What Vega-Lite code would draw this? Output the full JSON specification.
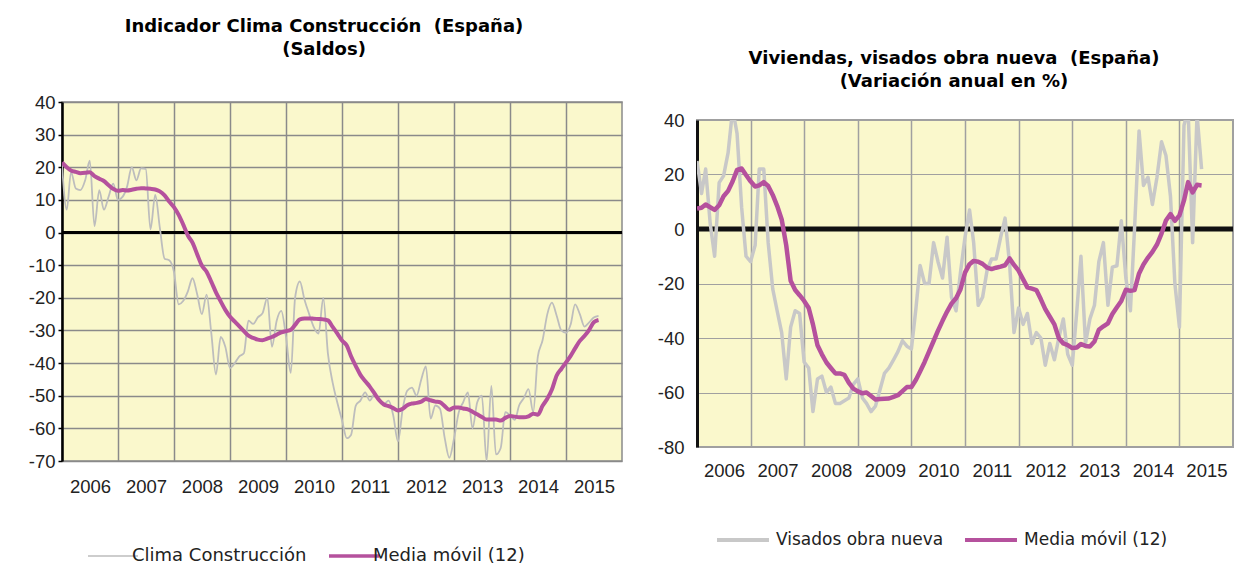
{
  "$schema": "https://vega.github.io/schema/vega-lite/v6.json",
  "padding": {"left": 5, "top": 10, "right": 0, "bottom": 0},
  "config": {
    "font": "Liberation Sans",
    "view": {"stroke": null},
    "axis": {"labelFont": "Liberation Sans", "labelColor": "#222222", "labelFontSize": 18.5, "title": null, "labelOverlap": false},
    "legend": {"labelFont": "DejaVu Sans", "labelColor": "#222222", "labelFontSize": 17, "labelLimit": 0, "layout": {"bottom": {"anchor": "middle"}}},
    "title": {"font": "DejaVu Sans", "fontSize": 18, "fontWeight": "bold", "color": "#000000", "lineHeight": 23}
  },
  "spacing": 21,
  "resolve": {"scale": {"x": "independent", "y": "independent", "color": "independent"}, "legend": {"color": "independent"}},
  "hconcat": [
    {
      "spacing": 0,
      "vconcat": [
        {
          "width": 10,
          "height": 1,
          "view": {"stroke": null, "fill": null},
          "data": {"values": [{}]},
          "mark": {"type": "point", "opacity": 0},
          "encoding": {}
        },
        {
          "width": 560,
          "height": 359,
          "title": {"text": ["Indicador Clima Construcción\u00a0\u00a0(España)", "(Saldos)"], "offset": 34, "dx": -18},
          "view": {"fill": "#FAF8CC", "stroke": "#8a8a8a", "strokeWidth": 1.5},
          "data": {"values": [
            {"d": "2006-01", "clima": 20.7, "media": 21.5},
            {"d": "2006-02", "clima": 7, "media": 20},
            {"d": "2006-03", "clima": 18.5, "media": 19},
            {"d": "2006-04", "clima": 13.5, "media": 18.6},
            {"d": "2006-05", "clima": 13, "media": 18.2},
            {"d": "2006-06", "clima": 16, "media": 18.3},
            {"d": "2006-07", "clima": 22, "media": 18.5},
            {"d": "2006-08", "clima": 2, "media": 17.3},
            {"d": "2006-09", "clima": 13, "media": 16.5},
            {"d": "2006-10", "clima": 7, "media": 15.8},
            {"d": "2006-11", "clima": 11, "media": 14.5},
            {"d": "2006-12", "clima": 15, "media": 13.4},
            {"d": "2007-01", "clima": 10, "media": 12.8},
            {"d": "2007-02", "clima": 11, "media": 13},
            {"d": "2007-03", "clima": 14, "media": 12.9},
            {"d": "2007-04", "clima": 20, "media": 13.1},
            {"d": "2007-05", "clima": 16, "media": 13.4},
            {"d": "2007-06", "clima": 19.7, "media": 13.6},
            {"d": "2007-07", "clima": 19.5, "media": 13.5},
            {"d": "2007-08", "clima": 1, "media": 13.4},
            {"d": "2007-09", "clima": 11.5, "media": 13.2},
            {"d": "2007-10", "clima": 1.5, "media": 12.6},
            {"d": "2007-11", "clima": -8, "media": 11.4},
            {"d": "2007-12", "clima": -8.5, "media": 9.5},
            {"d": "2008-01", "clima": -12, "media": 7.8},
            {"d": "2008-02", "clima": -22, "media": 5.4},
            {"d": "2008-03", "clima": -21, "media": 2.5},
            {"d": "2008-04", "clima": -18, "media": -0.9},
            {"d": "2008-05", "clima": -14, "media": -3.1},
            {"d": "2008-06", "clima": -19, "media": -6.7},
            {"d": "2008-07", "clima": -25, "media": -10.1},
            {"d": "2008-08", "clima": -19, "media": -12},
            {"d": "2008-09", "clima": -31, "media": -15.1},
            {"d": "2008-10", "clima": -43.5, "media": -18.3},
            {"d": "2008-11", "clima": -32, "media": -21.1},
            {"d": "2008-12", "clima": -35, "media": -23.7},
            {"d": "2009-01", "clima": -41.5, "media": -25.8},
            {"d": "2009-02", "clima": -40, "media": -27.3},
            {"d": "2009-03", "clima": -38, "media": -28.7},
            {"d": "2009-04", "clima": -37, "media": -30.2},
            {"d": "2009-05", "clima": -27, "media": -31.6},
            {"d": "2009-06", "clima": -28, "media": -32.3},
            {"d": "2009-07", "clima": -26, "media": -32.8},
            {"d": "2009-08", "clima": -24.7, "media": -33},
            {"d": "2009-09", "clima": -20, "media": -32.5},
            {"d": "2009-10", "clima": -35, "media": -32},
            {"d": "2009-11", "clima": -27, "media": -31.3},
            {"d": "2009-12", "clima": -24, "media": -30.6},
            {"d": "2010-01", "clima": -32, "media": -30.2},
            {"d": "2010-02", "clima": -43, "media": -29.8},
            {"d": "2010-03", "clima": -20, "media": -28.3},
            {"d": "2010-04", "clima": -15, "media": -26.6},
            {"d": "2010-05", "clima": -20.5, "media": -26.3},
            {"d": "2010-06", "clima": -25, "media": -26.3},
            {"d": "2010-07", "clima": -29, "media": -26.4},
            {"d": "2010-08", "clima": -31, "media": -26.5},
            {"d": "2010-09", "clima": -20, "media": -26.6},
            {"d": "2010-10", "clima": -37, "media": -26.9},
            {"d": "2010-11", "clima": -46, "media": -28.9},
            {"d": "2010-12", "clima": -52, "media": -30.9},
            {"d": "2011-01", "clima": -57.5, "media": -33.1},
            {"d": "2011-02", "clima": -63, "media": -34.6},
            {"d": "2011-03", "clima": -62, "media": -37.9},
            {"d": "2011-04", "clima": -53, "media": -40.9},
            {"d": "2011-05", "clima": -51.5, "media": -43.6},
            {"d": "2011-06", "clima": -49, "media": -45.5},
            {"d": "2011-07", "clima": -51.5, "media": -47.2},
            {"d": "2011-08", "clima": -49.5, "media": -49.3},
            {"d": "2011-09", "clima": -51, "media": -51.4},
            {"d": "2011-10", "clima": -52.5, "media": -52.7},
            {"d": "2011-11", "clima": -51.5, "media": -53.2},
            {"d": "2011-12", "clima": -56, "media": -53.8},
            {"d": "2012-01", "clima": -64, "media": -54.5},
            {"d": "2012-02", "clima": -54, "media": -54},
            {"d": "2012-03", "clima": -48.5, "media": -52.9},
            {"d": "2012-04", "clima": -47.5, "media": -52.4},
            {"d": "2012-05", "clima": -50, "media": -52.2},
            {"d": "2012-06", "clima": -45, "media": -51.8},
            {"d": "2012-07", "clima": -41, "media": -51},
            {"d": "2012-08", "clima": -57, "media": -51.4},
            {"d": "2012-09", "clima": -53, "media": -51.8},
            {"d": "2012-10", "clima": -54, "media": -52},
            {"d": "2012-11", "clima": -63, "media": -53.2},
            {"d": "2012-12", "clima": -69, "media": -54.3},
            {"d": "2013-01", "clima": -63, "media": -53.6},
            {"d": "2013-02", "clima": -55, "media": -53.6},
            {"d": "2013-03", "clima": -52, "media": -53.9},
            {"d": "2013-04", "clima": -49, "media": -54.2},
            {"d": "2013-05", "clima": -60, "media": -54.9},
            {"d": "2013-06", "clima": -52, "media": -55.7},
            {"d": "2013-07", "clima": -50, "media": -56.5},
            {"d": "2013-08", "clima": -70, "media": -57.3},
            {"d": "2013-09", "clima": -47, "media": -57.3},
            {"d": "2013-10", "clima": -68, "media": -57.3},
            {"d": "2013-11", "clima": -66, "media": -57.6},
            {"d": "2013-12", "clima": -55, "media": -56.8},
            {"d": "2014-01", "clima": -56, "media": -56.2},
            {"d": "2014-02", "clima": -57.4, "media": -56.4},
            {"d": "2014-03", "clima": -53, "media": -56.6},
            {"d": "2014-04", "clima": -50.7, "media": -56.6},
            {"d": "2014-05", "clima": -48, "media": -56.3},
            {"d": "2014-06", "clima": -55, "media": -55.5},
            {"d": "2014-07", "clima": -38, "media": -55.8},
            {"d": "2014-08", "clima": -33, "media": -53.1},
            {"d": "2014-09", "clima": -25, "media": -50.9},
            {"d": "2014-10", "clima": -21.5, "media": -48.1},
            {"d": "2014-11", "clima": -25.5, "media": -43.8},
            {"d": "2014-12", "clima": -30, "media": -41.8},
            {"d": "2015-01", "clima": -30.7, "media": -39.8},
            {"d": "2015-02", "clima": -28, "media": -37.7},
            {"d": "2015-03", "clima": -22, "media": -35.5},
            {"d": "2015-04", "clima": -25, "media": -33.2},
            {"d": "2015-05", "clima": -28.8, "media": -31.7},
            {"d": "2015-06", "clima": -27.5, "media": -29.8},
            {"d": "2015-07", "clima": -26, "media": -27.5},
            {"d": "2015-08", "clima": -25.5, "media": -26.8}
          ]},
          "layer": [
            {
              "data": {"values": [{}]},
              "mark": {"type": "rule", "color": "#000000", "strokeWidth": 3},
              "encoding": {"y": {"datum": 0, "type": "quantitative", "scale": {"domain": [-70, 40], "nice": false, "zero": false}}}
            },
            {
              "mark": {"type": "line", "interpolate": "monotone", "strokeWidth": 1.8, "clip": true, "strokeJoin": "round"},
              "encoding": {
                "x": {"field": "d", "type": "temporal",
                  "scale": {"type": "utc", "domain": [{"year": 2006, "month": 1, "date": 1, "utc": true}, {"year": 2016, "month": 1, "date": 1, "utc": true}]},
                  "axis": {"format": "%Y", "values": [{"year": 2006, "utc": true}, {"year": 2007, "utc": true}, {"year": 2008, "utc": true}, {"year": 2009, "utc": true}, {"year": 2010, "utc": true}, {"year": 2011, "utc": true}, {"year": 2012, "utc": true}, {"year": 2013, "utc": true}, {"year": 2014, "utc": true}, {"year": 2015, "utc": true}],
                    "tickCount": 12, "grid": true, "gridColor": "#8a8a8a", "gridWidth": 1.5, "domain": false, "ticks": false, "labelPadding": 16, "labelOffset": 28, "labelFlush": false, "labelBound": false, "labelOverlap": false}},
                "y": {"field": "clima", "type": "quantitative",
                  "scale": {"domain": [-70, 40], "nice": false, "zero": false},
                  "axis": {"values": [-70, -60, -50, -40, -30, -20, -10, 0, 10, 20, 30, 40], "tickCount": 12, "labelOverlap": false, "labelExpr": "datum.value + ''", "grid": true, "gridColor": "#8a8a8a", "gridWidth": 1.5, "domain": true, "domainColor": "#000000", "domainWidth": 2.5, "ticks": true, "tickColor": "#000000", "tickSize": 4, "tickWidth": 1.5, "labelPadding": 3, "minExtent": 56, "maxExtent": 56}},
                "color": {"datum": "Clima Construcción", "type": "nominal",
                  "scale": {"domain": ["Clima Construcción", "Media móvil (12)"], "range": ["#BDBDBD", "#B5519D"]},
                  "legend": {"orient": "bottom", "direction": "horizontal", "title": null, "symbolType": "stroke", "symbolSize": 2500, "symbolStrokeWidth": 3.5, "labelFontSize": 18, "columnPadding": 15, "labelOffset": 10, "offset": 50,
                    "encode": {"symbols": {"update": {"strokeWidth": {"signal": "datum.value == 'Clima Construcción' ? 1.5 : 3.5"}}}}}}
              }
            },
            {
              "mark": {"type": "line", "interpolate": "monotone", "strokeWidth": 4, "clip": true, "strokeJoin": "round"},
              "encoding": {
                "x": {"field": "d", "type": "temporal"},
                "y": {"field": "media", "type": "quantitative",
                  "axis": {"values": [-70, -60, -50, -40, -30, -20, -10, 0, 10, 20, 30, 40], "tickCount": 12, "labelOverlap": false, "labelExpr": "datum.value + ''", "grid": true, "gridColor": "#8a8a8a", "gridWidth": 1.5, "domain": true, "domainColor": "#000000", "domainWidth": 2.5, "ticks": true, "tickColor": "#000000", "tickSize": 4, "tickWidth": 1.5, "labelPadding": 3, "minExtent": 56, "maxExtent": 56}},
                "color": {"datum": "Media móvil (12)", "type": "nominal"}
              }
            }
          ]
        }
      ]
    },
    {
      "spacing": 0,
      "vconcat": [
        {
          "width": 10,
          "height": 36,
          "view": {"stroke": null, "fill": null},
          "data": {"values": [{}]},
          "mark": {"type": "point", "opacity": 0},
          "encoding": {}
        },
        {
          "width": 536,
          "height": 327,
          "title": {"text": ["Viviendas, visados obra nueva\u00a0\u00a0(España)", "(Variación anual en %)"], "offset": 20, "dx": -11},
          "view": {"fill": "#FAF8CC", "stroke": "#a0a0a0", "strokeWidth": 2},
          "data": {"values": [
            {"d": "2006-01", "visados": 25, "media": 7.5},
            {"d": "2006-02", "visados": 13, "media": 7.8},
            {"d": "2006-03", "visados": 22, "media": 9},
            {"d": "2006-04", "visados": 2, "media": 8},
            {"d": "2006-05", "visados": -10, "media": 7},
            {"d": "2006-06", "visados": 17, "media": 8.7},
            {"d": "2006-07", "visados": 19.5, "media": 12},
            {"d": "2006-08", "visados": 28, "media": 14},
            {"d": "2006-09", "visados": 44, "media": 17.5},
            {"d": "2006-10", "visados": 35, "media": 21.7},
            {"d": "2006-11", "visados": 8, "media": 22.2},
            {"d": "2006-12", "visados": -10, "media": 19.8},
            {"d": "2007-01", "visados": -12, "media": 17.5},
            {"d": "2007-02", "visados": -6, "media": 15.6},
            {"d": "2007-03", "visados": 22, "media": 16},
            {"d": "2007-04", "visados": 22, "media": 17.2},
            {"d": "2007-05", "visados": -5, "media": 15.8},
            {"d": "2007-06", "visados": -22, "media": 12.5},
            {"d": "2007-07", "visados": -30, "media": 8.5},
            {"d": "2007-08", "visados": -38, "media": 3.5},
            {"d": "2007-09", "visados": -55, "media": -6},
            {"d": "2007-10", "visados": -36, "media": -19},
            {"d": "2007-11", "visados": -30, "media": -22.4},
            {"d": "2007-12", "visados": -31, "media": -24.3},
            {"d": "2008-01", "visados": -48.8, "media": -26.4},
            {"d": "2008-02", "visados": -51, "media": -29},
            {"d": "2008-03", "visados": -67, "media": -35},
            {"d": "2008-04", "visados": -55, "media": -42.7},
            {"d": "2008-05", "visados": -54, "media": -46},
            {"d": "2008-06", "visados": -60, "media": -49},
            {"d": "2008-07", "visados": -58, "media": -51},
            {"d": "2008-08", "visados": -64, "media": -53},
            {"d": "2008-09", "visados": -64, "media": -53},
            {"d": "2008-10", "visados": -63, "media": -53.5},
            {"d": "2008-11", "visados": -62, "media": -56.5},
            {"d": "2008-12", "visados": -57, "media": -58.6},
            {"d": "2009-01", "visados": -55, "media": -59.6},
            {"d": "2009-02", "visados": -62, "media": -60.3},
            {"d": "2009-03", "visados": -64, "media": -60},
            {"d": "2009-04", "visados": -67, "media": -61.3},
            {"d": "2009-05", "visados": -65, "media": -62.6},
            {"d": "2009-06", "visados": -59, "media": -62.4},
            {"d": "2009-07", "visados": -53, "media": -62.3},
            {"d": "2009-08", "visados": -51, "media": -62.2},
            {"d": "2009-09", "visados": -48, "media": -61.6},
            {"d": "2009-10", "visados": -45, "media": -61},
            {"d": "2009-11", "visados": -41, "media": -59.5},
            {"d": "2009-12", "visados": -43, "media": -58},
            {"d": "2010-01", "visados": -44, "media": -58},
            {"d": "2010-02", "visados": -29, "media": -55.3},
            {"d": "2010-03", "visados": -13.4, "media": -52.3},
            {"d": "2010-04", "visados": -20, "media": -48.8},
            {"d": "2010-05", "visados": -20, "media": -45},
            {"d": "2010-06", "visados": -5, "media": -41.1},
            {"d": "2010-07", "visados": -12, "media": -37.3},
            {"d": "2010-08", "visados": -18, "media": -33.7},
            {"d": "2010-09", "visados": -3, "media": -30.3},
            {"d": "2010-10", "visados": -25, "media": -27.4},
            {"d": "2010-11", "visados": -30, "media": -25.4},
            {"d": "2010-12", "visados": -16, "media": -22.2},
            {"d": "2011-01", "visados": -3, "media": -16},
            {"d": "2011-02", "visados": 7, "media": -12.9},
            {"d": "2011-03", "visados": -5, "media": -11.7},
            {"d": "2011-04", "visados": -28, "media": -12},
            {"d": "2011-05", "visados": -25, "media": -12.8},
            {"d": "2011-06", "visados": -15, "media": -14.2},
            {"d": "2011-07", "visados": -11, "media": -14.7},
            {"d": "2011-08", "visados": -11, "media": -14.2},
            {"d": "2011-09", "visados": -3, "media": -13.8},
            {"d": "2011-10", "visados": 4, "media": -13.3},
            {"d": "2011-11", "visados": -13, "media": -10.8},
            {"d": "2011-12", "visados": -38, "media": -13.2},
            {"d": "2012-01", "visados": -29, "media": -15.3},
            {"d": "2012-02", "visados": -35, "media": -18.5},
            {"d": "2012-03", "visados": -31, "media": -21.4},
            {"d": "2012-04", "visados": -42, "media": -21.9},
            {"d": "2012-05", "visados": -38, "media": -22.4},
            {"d": "2012-06", "visados": -40, "media": -25.8},
            {"d": "2012-07", "visados": -50, "media": -29.4},
            {"d": "2012-08", "visados": -42, "media": -32.2},
            {"d": "2012-09", "visados": -48, "media": -35},
            {"d": "2012-10", "visados": -40, "media": -40},
            {"d": "2012-11", "visados": -33, "media": -42},
            {"d": "2012-12", "visados": -46, "media": -42.6},
            {"d": "2013-01", "visados": -50, "media": -43.7},
            {"d": "2013-02", "visados": -30, "media": -43.5},
            {"d": "2013-03", "visados": -10, "media": -42.2},
            {"d": "2013-04", "visados": -42, "media": -42.9},
            {"d": "2013-05", "visados": -33, "media": -43.1},
            {"d": "2013-06", "visados": -28, "media": -41.3},
            {"d": "2013-07", "visados": -12, "media": -37},
            {"d": "2013-08", "visados": -5, "media": -35.7},
            {"d": "2013-09", "visados": -28, "media": -34.6},
            {"d": "2013-10", "visados": -14, "media": -31.2},
            {"d": "2013-11", "visados": -13.5, "media": -28.7},
            {"d": "2013-12", "visados": 3, "media": -26.4},
            {"d": "2014-01", "visados": -18, "media": -22.3},
            {"d": "2014-02", "visados": -30, "media": -22.7},
            {"d": "2014-03", "visados": 0, "media": -22.4},
            {"d": "2014-04", "visados": 36, "media": -16.3},
            {"d": "2014-05", "visados": 16, "media": -13},
            {"d": "2014-06", "visados": 19, "media": -10.5},
            {"d": "2014-07", "visados": 9, "media": -8.4},
            {"d": "2014-08", "visados": 19, "media": -5.7},
            {"d": "2014-09", "visados": 32, "media": -1.7},
            {"d": "2014-10", "visados": 27, "media": 3.1},
            {"d": "2014-11", "visados": 12, "media": 5.5},
            {"d": "2014-12", "visados": -20, "media": 3},
            {"d": "2015-01", "visados": -36, "media": 5},
            {"d": "2015-02", "visados": 38, "media": 10.5},
            {"d": "2015-03", "visados": 44, "media": 17.2},
            {"d": "2015-04", "visados": -5, "media": 13.4},
            {"d": "2015-05", "visados": 42, "media": 16.2},
            {"d": "2015-06", "visados": 22, "media": 16}
          ]},
          "layer": [
            {
              "data": {"values": [{}]},
              "mark": {"type": "rule", "color": "#111111", "strokeWidth": 5},
              "encoding": {"y": {"datum": 0, "type": "quantitative", "scale": {"domain": [-80, 40], "nice": false, "zero": false}}}
            },
            {
              "mark": {"type": "line", "strokeWidth": 3.5, "clip": true, "strokeJoin": "round"},
              "encoding": {
                "x": {"field": "d", "type": "temporal",
                  "scale": {"type": "utc", "domain": [{"year": 2006, "month": 1, "date": 1, "utc": true}, {"year": 2016, "month": 1, "date": 1, "utc": true}]},
                  "axis": {"format": "%Y", "values": [{"year": 2006, "utc": true}, {"year": 2007, "utc": true}, {"year": 2008, "utc": true}, {"year": 2009, "utc": true}, {"year": 2010, "utc": true}, {"year": 2011, "utc": true}, {"year": 2012, "utc": true}, {"year": 2013, "utc": true}, {"year": 2014, "utc": true}, {"year": 2015, "utc": true}],
                    "tickCount": 12, "grid": true, "gridColor": "#a0a0a0", "gridWidth": 1.5, "domain": false, "ticks": false, "labelPadding": 14, "labelOffset": 27, "labelFlush": false, "labelBound": false, "labelOverlap": false}},
                "y": {"field": "visados", "type": "quantitative",
                  "scale": {"domain": [-80, 40], "nice": false, "zero": false},
                  "axis": {"values": [-80, -60, -40, -20, 0, 20, 40], "tickCount": 7, "labelOverlap": false, "labelExpr": "datum.value + ''", "grid": true, "gridColor": "#a0a0a0", "gridWidth": 1.2, "domain": true, "domainColor": "#111111", "domainWidth": 3, "ticks": false, "labelPadding": 13, "minExtent": 50, "maxExtent": 50}},
                "color": {"datum": "Visados obra nueva", "type": "nominal",
                  "scale": {"domain": ["Visados obra nueva", "Media móvil (12)"], "range": ["#C8C8C8", "#B5519D"]},
                  "legend": {"orient": "bottom", "direction": "horizontal", "title": null, "symbolType": "stroke", "symbolSize": 2700, "symbolStrokeWidth": 4, "columnPadding": 13, "labelOffset": 5, "offset": 31}}
              }
            },
            {
              "mark": {"type": "line", "strokeWidth": 4.5, "clip": true, "strokeJoin": "round"},
              "encoding": {
                "x": {"field": "d", "type": "temporal"},
                "y": {"field": "media", "type": "quantitative"},
                "color": {"datum": "Media móvil (12)", "type": "nominal"}
              }
            }
          ]
        }
      ]
    }
  ]
}
